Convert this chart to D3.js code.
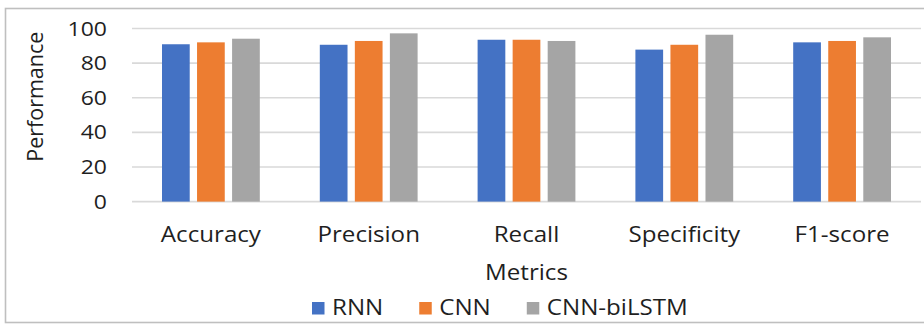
<!DOCTYPE html>
<html>
<head>
<meta charset="utf-8">
<script src="https://cdn.jsdelivr.net/npm/d3@7/dist/d3.min.js"></script>
<style>
  html, body { margin: 0; padding: 0; background: #fff; }
  svg { display: block; }
  text { font-family: "Open Sans", "Noto Sans", sans-serif; fill: #1f1f1f; }
</style>
</head>
<body>
<svg id="chart" width="924" height="324"></svg>
<script>
// Model comparison across evaluation metrics
const categories = ["Accuracy", "Precision", "Recall", "Specificity", "F1-score"];
const seriesNames = ["RNN", "CNN", "CNN-biLSTM"];
const rnnValues = [90.9, 90.6, 93.5, 87.8, 92.0];
const cnnValues = [92.0, 92.8, 93.5, 90.6, 92.8];
const biLstmValues = [94.1, 97.2, 92.8, 96.4, 94.9];
const yTicks = [0, 20, 40, 60, 80, 100];
const colors = ["#4472C4", "#ED7D31", "#A5A5A5"];

const seriesValues = [rnnValues, cnnValues, biLstmValues];
const rows = categories.map((c, i) => ({
  category: c,
  values: seriesNames.map((s, j) => ({ series: s, value: seriesValues[j][i], color: colors[j] }))
}));

const svg = d3.select("#chart");
const plot = { left: 132, right: 921, top: 28.5, bottom: 201.6 };
const stretch = 1.15;

// Chart frame
svg.append("rect")
  .attr("x", 5.5).attr("y", 8.5)
  .attr("width", 940).attr("height", 314)
  .attr("fill", "none").attr("stroke", "#bfbfbf").attr("stroke-width", 1.6);

const x0 = d3.scaleBand().domain(categories).range([plot.left, plot.right]);
const groupPad = 30;
const x1 = d3.scaleBand().domain(seriesNames)
  .range([groupPad, x0.bandwidth() - groupPad]).paddingInner(0.209);
const y = d3.scaleLinear().domain([0, 100]).range([plot.bottom, plot.top]);

// Horizontal gridlines
svg.append("g").selectAll("line").data(yTicks).join("line")
  .attr("x1", plot.left).attr("x2", plot.right)
  .attr("y1", d => y(d)).attr("y2", d => y(d))
  .attr("stroke", "#d9d9d9").attr("stroke-width", 1.6);

// Y tick labels
svg.append("g").selectAll("g").data(yTicks).join("g")
  .attr("transform", d => `translate(107,${y(d)}) scale(${stretch},1)`)
  .append("text")
  .attr("text-anchor", "end").attr("dy", "0.35em")
  .style("font-size", "20px")
  .text(d => d);

// Bars
const groups = svg.append("g").selectAll("g").data(rows).join("g")
  .attr("transform", d => `translate(${x0(d.category)},0)`);
groups.selectAll("rect").data(d => d.values).join("rect")
  .attr("x", d => x1(d.series))
  .attr("width", x1.bandwidth())
  .attr("y", d => y(d.value))
  .attr("height", d => y(0) - y(d.value))
  .attr("fill", d => d.color);

// Category labels
svg.append("g").selectAll("g").data(categories).join("g")
  .attr("transform", d => `translate(${x0(d) + x0.bandwidth() / 2},241.7) scale(${stretch},1)`)
  .append("text")
  .attr("text-anchor", "middle")
  .style("font-size", "21px")
  .text(d => d);

// Axis titles
svg.append("g")
  .attr("transform", `translate(${(plot.left + plot.right) / 2},280) scale(${stretch},1)`)
  .append("text").attr("text-anchor", "middle").style("font-size", "21px").text("Metrics");

svg.append("g")
  .attr("transform", "translate(43,96.7) rotate(-90)")
  .append("text").attr("text-anchor", "middle").style("font-size", "21.5px").text("Performance");

// Legend
const legend = svg.append("g").attr("transform", "translate(312,0)");
let lx = 0;
seriesNames.forEach((name, i) => {
  legend.append("rect")
    .attr("x", lx).attr("y", 302).attr("width", 12.5).attr("height", 12.5)
    .attr("fill", colors[i]);
  const g = legend.append("g")
    .attr("transform", `translate(${lx + 20},315) scale(${stretch},1)`);
  const t = g.append("text").style("font-size", "21px").text(name);
  lx += 20 + t.node().getComputedTextLength() * stretch + 36;
});
</script>
</body>
</html>
